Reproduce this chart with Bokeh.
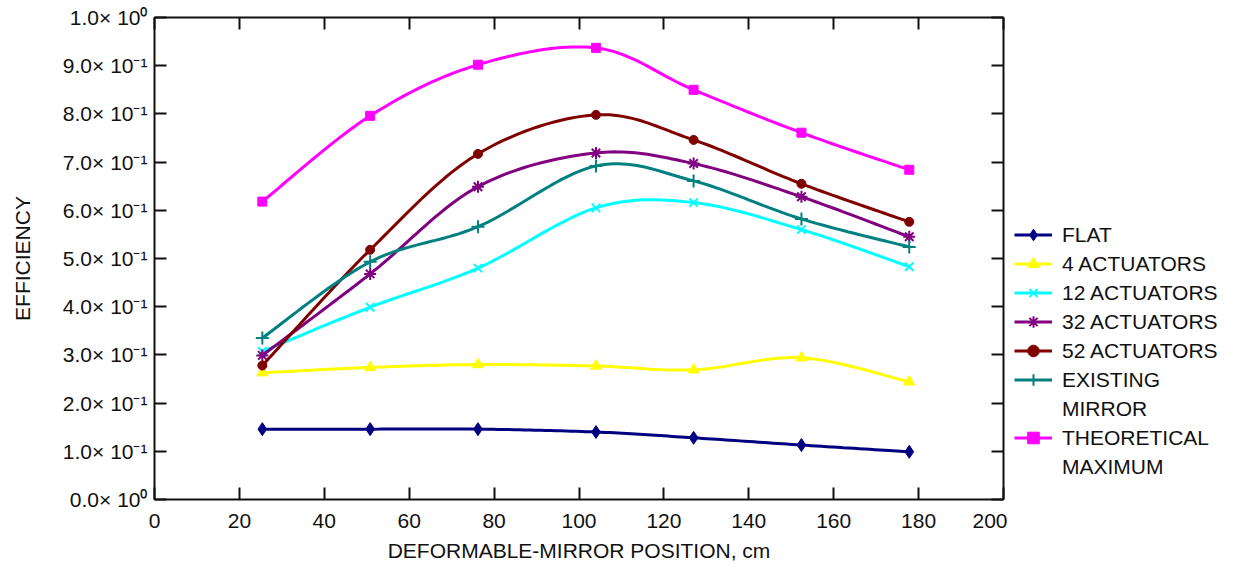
import numpy as np
from bokeh.plotting import figure
from bokeh.layouts import row
from bokeh.models import Range1d, LinearAxis, Legend, LegendItem, FixedTicker, CustomLabelingPolicy
from bokeh.embed import file_html
from bokeh.resources import INLINE

# ---- data ----
position_cm = [25.4, 50.8, 76.2, 104.0, 127.0, 152.4, 177.8]
flat = [0.146, 0.146, 0.146, 0.140, 0.128, 0.113, 0.099]
act4 = [0.263, 0.274, 0.280, 0.277, 0.269, 0.294, 0.244]
act12 = [0.307, 0.399, 0.480, 0.605, 0.616, 0.560, 0.483]
act32 = [0.299, 0.468, 0.649, 0.719, 0.697, 0.628, 0.545]
act52 = [0.278, 0.518, 0.717, 0.798, 0.746, 0.655, 0.576]
existing = [0.335, 0.493, 0.566, 0.692, 0.661, 0.582, 0.524]
theoretical = [0.618, 0.796, 0.902, 0.937, 0.850, 0.761, 0.684]

series_labels = [["FLAT"], ["4 ACTUATORS"], ["12 ACTUATORS"], ["32 ACTUATORS"],
                 ["52 ACTUATORS"], ["EXISTING", "MIRROR"], ["THEORETICAL", "MAXIMUM"]]
y_ticks = [0.0, 0.1, 0.2, 0.3, 0.4, 0.5, 0.6, 0.7, 0.8, 0.9, 1.0]
y_tick_labels = ["0.0\u00d7 10\u2070", "1.0\u00d7 10\u207b\u00b9", "2.0\u00d7 10\u207b\u00b9",
                 "3.0\u00d7 10\u207b\u00b9", "4.0\u00d7 10\u207b\u00b9", "5.0\u00d7 10\u207b\u00b9",
                 "6.0\u00d7 10\u207b\u00b9", "7.0\u00d7 10\u207b\u00b9", "8.0\u00d7 10\u207b\u00b9",
                 "9.0\u00d7 10\u207b\u00b9", "1.0\u00d7 10\u2070"]
x_ticks = [0, 20, 40, 60, 80, 100, 120, 140, 160, 180, 200]

FONT = "Liberation Sans"
TXT = "#111111"


def smooth(xs, ys, n=24):
    """Catmull-Rom rendering of the curve through the data points."""
    P = np.column_stack([xs, ys]).astype(float)
    P = np.vstack([P[0], P, P[-1]])
    out = []
    t = np.linspace(0, 1, n)[:, None]
    for i in range(1, len(P) - 2):
        p0, p1, p2, p3 = P[i - 1], P[i], P[i + 1], P[i + 2]
        seg = 0.5 * ((2 * p1) + (-p0 + p2) * t + (2 * p0 - 5 * p1 + 4 * p2 - p3) * t ** 2
                     + (-p0 + 3 * p1 - 3 * p2 + p3) * t ** 3)
        out.append(seg if i == 1 else seg[1:])
    out = np.vstack(out)
    return out[:, 0], out[:, 1]


p = figure(frame_width=849, frame_height=482, output_backend="svg", toolbar_location=None,
           x_range=Range1d(0, 200), y_range=Range1d(0, 1.0),
           min_border_left=154, min_border_top=17, min_border_right=2, min_border_bottom=20)
p.xgrid.visible = False
p.ygrid.visible = False
p.outline_line_color = None
p.background_fill_color = "white"
p.border_fill_color = "white"


def style_axis(ax, labels=True):
    ax.axis_line_width = 2
    ax.axis_line_color = "#111111"
    ax.major_tick_line_width = 2
    ax.major_tick_line_color = "#111111"
    ax.major_tick_in = 12
    ax.major_tick_out = 0
    ax.minor_tick_in = 0
    ax.minor_tick_out = 0
    ax.major_label_text_font = FONT
    ax.major_label_text_color = TXT
    ax.axis_label_text_font = FONT
    ax.axis_label_text_color = TXT
    ax.axis_label_text_font_style = "normal"
    ax.major_label_text_font_size = "21px" if labels else "1px"
    ax.axis_label_text_font_size = "21px"
    if not labels:
        ax.major_label_policy = CustomLabelingPolicy(
            code="for (const i of Array.from(indices)) { indices.unset(i) }")
        ax.major_label_standoff = 0


xa = p.xaxis[0]
xa.ticker = FixedTicker(ticks=x_ticks)
style_axis(xa)
xa.major_label_standoff = 14
xa.axis_label = "DEFORMABLE-MIRROR POSITION, cm"
xa.axis_label_standoff = 8

ya = p.yaxis[0]
ya.ticker = FixedTicker(ticks=y_ticks)
style_axis(ya)
ya.major_label_overrides = {t: l for t, l in zip(y_ticks, y_tick_labels)}
ya.major_label_standoff = 7
ya.axis_label = "EFFICIENCY"
ya.axis_label_standoff = 26

top = LinearAxis(ticker=FixedTicker(ticks=x_ticks))
style_axis(top, labels=False)
p.add_layout(top, "above")
right = LinearAxis(ticker=FixedTicker(ticks=y_ticks))
style_axis(right, labels=False)
p.add_layout(right, "right")

series = [flat, act4, act12, act32, act52, existing, theoretical]
colors = ["#000080", "#FFFF00", "#00FFFF", "#800080", "#800000", "#008080", "#FF00FF"]
markers = ["diamond", "triangle", "x", "asterisk", "circle", "cross", "square"]
sizes = [13, 11, 12, 12, 9, 13, 9]

# legend lives in a narrow companion figure to the right of the plot
lg = figure(width=227, height=573, output_backend="svg", toolbar_location=None,
            x_axis_location=None, y_axis_location=None,
            min_border_left=7, min_border_top=17, min_border_right=0, min_border_bottom=20)
lg.xgrid.visible = False
lg.ygrid.visible = False
lg.outline_line_color = None

items = []
for vals, col, mk, sz, labs in zip(series, colors, markers, sizes, series_labels):
    sx, sy = smooth(position_cm, vals)
    lw = 2 if mk in ("x", "asterisk", "cross") else 1
    p.line(sx, sy, line_color=col, line_width=3)
    p.scatter(position_cm, vals, marker=mk, size=sz, fill_color=col, line_color=col, line_width=lw)
    l_ln = lg.line(position_cm, vals, line_color=col, line_width=3, visible=False)
    l_sc = lg.scatter(position_cm, vals, marker=mk, size=sz, fill_color=col, line_color=col,
                      line_width=lw, visible=False)
    items.append(LegendItem(label=labs[0], renderers=[l_ln, l_sc]))
    for extra in labs[1:]:
        blank = lg.line(position_cm, vals, line_alpha=0, visible=False)
        items.append(LegendItem(label=extra, renderers=[blank]))

legend = Legend(items=items, location=(0, 27), padding=0, margin=0, spacing=0,
                glyph_width=38, glyph_height=29, label_height=29, label_standoff=10,
                label_text_font=FONT, label_text_font_size="21px", label_text_color=TXT,
                border_line_color=None, background_fill_alpha=0)
lg.add_layout(legend, "center")

layout = row(p, lg, spacing=0)
open("out.html", "w").write(file_html(layout, INLINE))
